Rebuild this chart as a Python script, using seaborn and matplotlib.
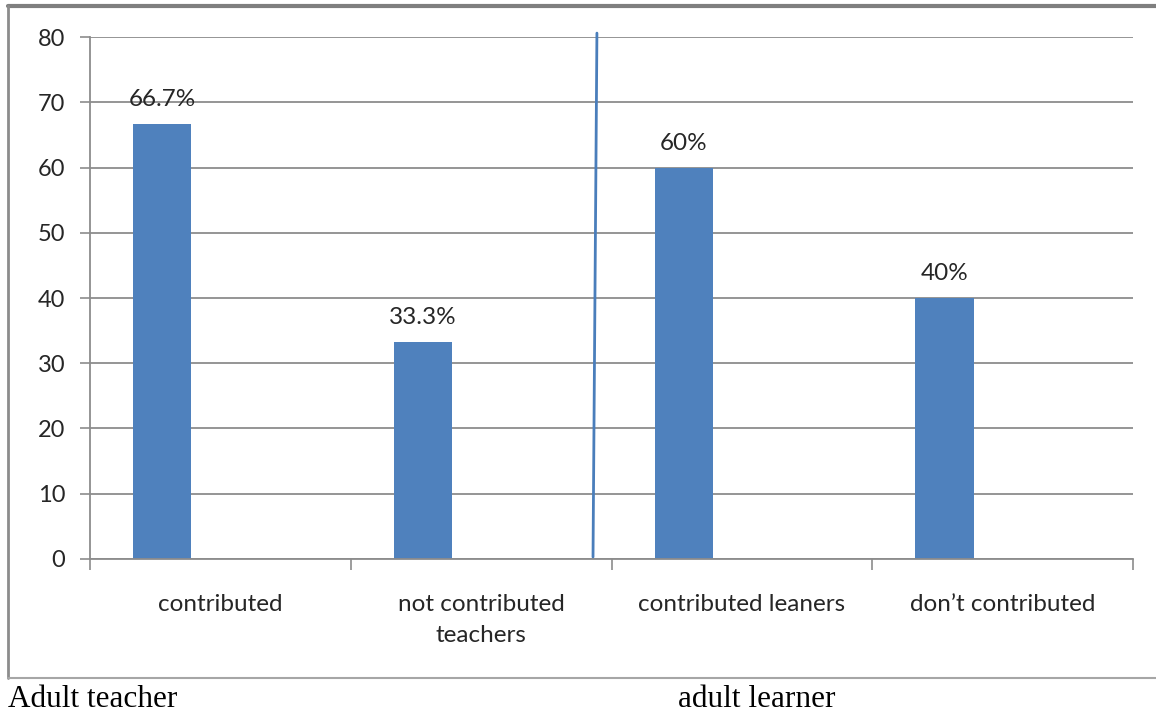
import numpy as np
import pandas as pd
import matplotlib.pyplot as plt
import seaborn as sns
from matplotlib.lines import Line2D

categories = ["contributed", "not contributed\nteachers", "contributed leaners", "don\u2019t contributed"]
values = [66.7, 33.3, 60, 40]
bar_labels = ["66.7%", "33.3%", "60%", "40%"]
# excel chart had three series slots, only the first one filled
series_levels = ["s1", "s2", "s3"]
y_ticks = [0, 10, 20, 30, 40, 50, 60, 70, 80]

group_left = "Adult teacher"
group_right = "adult learner"
divider_x = [1.444, 1.429]
divider_y = [80.6, 0.3]

rows = []
for lvl in series_levels:
    for c, v in zip(categories, values):
        rows.append({"category": c, "value": v if lvl == "s1" else np.nan, "series": lvl})
df = pd.DataFrame(rows)

sns.set_style("white")
plt.rcParams["font.family"] = ["Lato", "DejaVu Sans"]

fig = plt.figure(figsize=(11.56, 7.12), dpi=100)
ax = fig.add_axes([0.0779, 0.2149, 0.9022, 0.7331])

sns.barplot(data=df, x="category", y="value", hue="series", hue_order=series_levels,
            palette={"s1": "#4f81bd", "s2": "#c0504d", "s3": "#9bbb59"},
            width=0.669, saturation=1, legend=False, linewidth=0, ax=ax)

ax.bar_label(ax.containers[0], labels=bar_labels, padding=10, fontsize=17.5, color="#262626")

ax.set_xlim(-0.5, 3.5)
ax.set_ylim(0, 80)
ax.set_yticks(y_ticks)
ax.set_yticklabels([str(t) for t in y_ticks], fontsize=17, color="#262626")
ax.yaxis.grid(True, color="#8c8c8c", linewidth=1.3)
ax.set_axisbelow(True)
ax.tick_params(axis="y", length=7, width=1.2, color="#8c8c8c", pad=11, left=True)

# category ticks sit between the groups like in excel
ax.set_xticks([-0.5, 0.5, 1.5, 2.5, 3.5])
ax.set_xticklabels([])
ax.set_xticks(range(len(categories)), minor=True)
ax.set_xticklabels(categories, minor=True, fontsize=17.5, color="#262626", linespacing=1.6)
ax.tick_params(axis="x", which="major", length=8, width=1.2, color="#8c8c8c", bottom=True)
ax.tick_params(axis="x", which="minor", length=0, pad=25)
for lab in ax.get_xticklabels(minor=True):
    lab.set_verticalalignment("top")

ax.set_xlabel("")
ax.set_ylabel("")
for side in ["top", "right"]:
    ax.spines[side].set_visible(False)
for side in ["left", "bottom"]:
    ax.spines[side].set_color("#8c8c8c")
    ax.spines[side].set_linewidth(1.3)

ax.plot(divider_x, divider_y, color="#4a7ebb", linewidth=2, clip_on=False)

# outer chart frame
fig.add_artist(Line2D([8 / 1156, 1.0], [1 - 6 / 712, 1 - 6 / 712], color="#7f7f7f", linewidth=3))
fig.add_artist(Line2D([8 / 1156, 8 / 1156], [1 - 6 / 712, 1 - 678 / 712], color="#8c8c8c", linewidth=2))
fig.add_artist(Line2D([8 / 1156, 1.0], [1 - 678 / 712, 1 - 678 / 712], color="#a6a6a6", linewidth=1.5))

fig.text(8 / 1156, 1 - 707 / 712, group_left, fontsize=22.5, family="Liberation Serif", color="black")
fig.text(678 / 1156, 1 - 707 / 712, group_right, fontsize=22.5, family="Liberation Serif", color="black")

fig.savefig("out.png", dpi=100, facecolor="white")
